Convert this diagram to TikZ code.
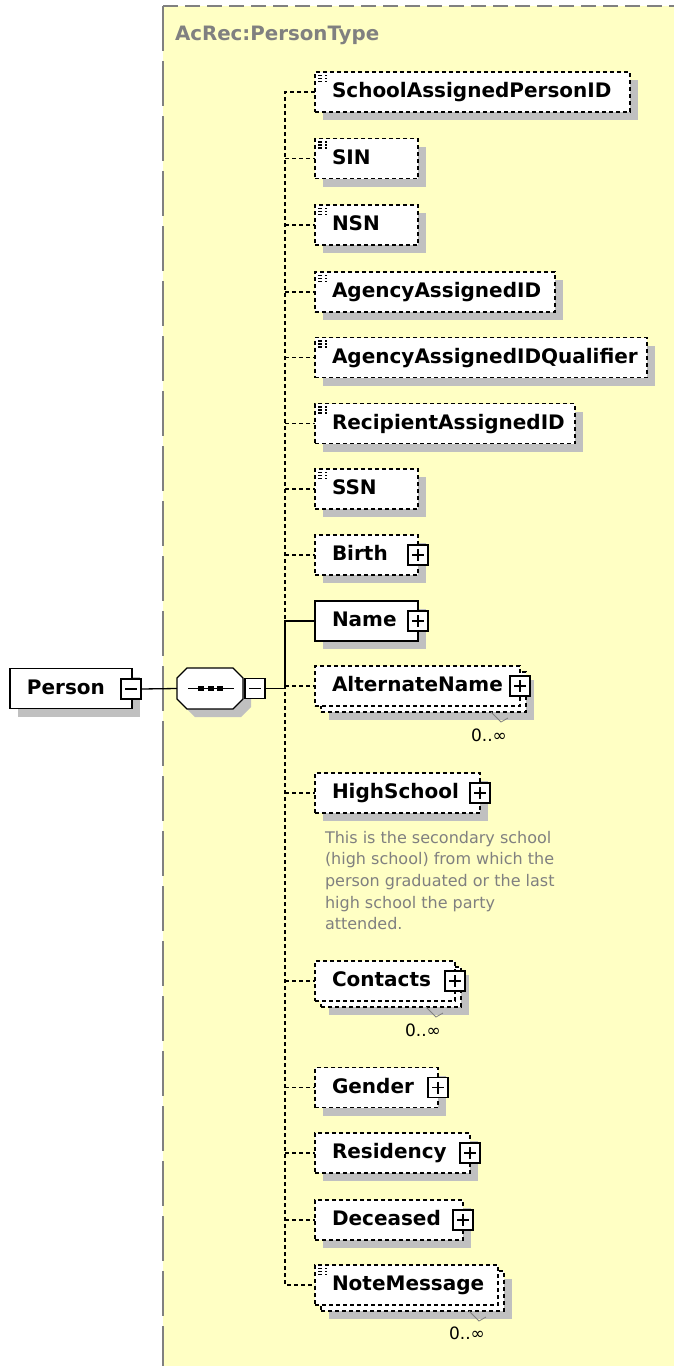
\documentclass[tikz,border=0pt]{standalone}
\usepackage{fontspec}
\setmainfont{DejaVu Sans}
\usetikzlibrary{shadows}
\definecolor{bgy}{HTML}{FFFFC4}
\definecolor{shd}{HTML}{C0C0C0}
\definecolor{txg}{HTML}{808080}
\hyphenpenalty=10000
\exhyphenpenalty=10000
\begin{document}
\begin{tikzpicture}[x=1pt,y=-1pt,
  every node/.style={inner sep=0pt, outer sep=0pt},
  lw/.style={line width=1.3pt},
  shad/.style={general shadow={fill=shd, shadow xshift=8pt, shadow yshift=-8pt}},
  elbox/.style={font=\fontsize{20}{24}\selectfont\bfseries, draw=black, fill=white, lw,
    minimum height=40pt, inner xsep=17pt, text width=#1, align=left, anchor=west,
    text height=15pt, text depth=4pt},
  dsh/.style={dash pattern=on 4pt off 3pt},
  opt/.style={dsh},
  backbox/.style={draw=black, fill=white, lw, dsh, minimum height=40pt, minimum width=#1, anchor=west, shad},
  doc/.style={path picture={
    \foreach \k in {0,1,2}{\draw[line width=1.1pt] ([xshift=3pt,yshift={-3.5pt-3pt*\k}]path picture bounding box.north west) -- ++(9,0);}}},
  pbox/.style={draw=black, fill=white, lw, minimum size=20pt,
    path picture={\draw[lw] ([xshift=4pt]path picture bounding box.west) -- ([xshift=-4pt]path picture bounding box.east);
                  \draw[lw] ([yshift=-4pt]path picture bounding box.north) -- ([yshift=4pt]path picture bounding box.south);}},
  mbox/.style={draw=black, fill=white, lw, minimum size=20pt,
    path picture={\draw[lw] ([xshift=4pt]path picture bounding box.west) -- ([xshift=-4pt]path picture bounding box.east);}},
  conn/.style={lw, dash pattern=on 4pt off 3pt},
  card/.style={font=\fontsize{17}{20}\selectfont, text=black},
  vmark/.style={draw=txg, line width=0.8pt}
]
\useasboundingbox (0,0) rectangle (674,1366);
% background of the complex type
\fill[bgy] (163,6) rectangle (674,1366);
\draw[txg, line width=2pt, dash pattern=on 15pt off 7pt] (163,6) -- (674,6);
\draw[txg, line width=2pt, dash pattern=on 45pt off 10pt] (163,6) -- (163,1366);
\node[font=\fontsize{19.8}{23}\selectfont\bfseries, text=txg, anchor=west] (title) at (175,35) {AcRec:PersonType};

% Person
\node[elbox=88pt, shad] (person) at (10,688.5) {Person};
\node[mbox] (pM) at (131,689) {};

% sequence compositor
\node[minimum width=66pt, minimum height=41pt] (seq) at (210,688.5) {};
\fill[shd] (195,676) -- (241,676) -- (251,686) -- (251,707) -- (241,717) -- (195,717) -- (185,707) -- (185,686) -- cycle;
\draw[lw, fill=white] (187,668) -- (233,668) -- (243,678) -- (243,699) -- (233,709) -- (187,709) -- (177,699) -- (177,678) -- cycle;
\draw[lw] (188,688.5) -- (234,688.5);
\fill (198,686) rectangle (204,691);
\fill (207.5,686) rectangle (213.5,691);
\fill (217,686) rectangle (223,691);
\node[mbox] (seqM) at (255,688.5) {};
\coordinate (t) at (285,688.5);

% elements
\node[elbox=281pt, opt, shad, doc] (sapid) at (315,92) {SchoolAssignedPersonID};
\node[elbox=69pt, opt, shad, doc] (sin) at (315,158.5) {SIN};
\node[elbox=69pt, opt, shad, doc] (nsn) at (315,225) {NSN};
\node[elbox=206pt, opt, shad, doc] (aaid) at (315,292) {AgencyAssignedID};
\node[elbox=298pt, opt, shad, doc] (aaidq) at (315,357.5) {AgencyAssignedIDQualifier};
\node[elbox=226pt, opt, shad, doc] (raid) at (315,423.5) {RecipientAssignedID};
\node[elbox=69pt, opt, shad, doc] (ssn) at (315,489) {SSN};
\node[elbox=69pt, opt, shad] (birth) at (315,555) {Birth};
\node[pbox] (birthP) at (birth.east) {};
\node[elbox=69pt, shad] (name) at (315,621) {Name};
\node[pbox] (nameP) at (name.east) {};

\node[backbox=205pt] (altB) at (321,692) {};
\node[elbox=171pt, opt] (alt) at (315,686) {AlternateName};
\node[pbox] (altP) at (alt.east) {};
\draw[vmark] ([xshift=-35pt]altB.south east) -- ++(10,10) -- ++(7,-4);
\node[card] (altC) at (489,735) {0..∞};

\node[elbox=131pt, opt, shad] (hs) at (315,793) {HighSchool};
\node[pbox] (hsP) at (hs.east) {};
\node[font=\fontsize{16}{21.7}\selectfont, text=txg, align=left, anchor=north west] (hsDoc) at (325,831)
  {This is the secondary school\\(high school) from which the\\person graduated or the last\\high school the party\\attended.};

\node[backbox=140pt] (contB) at (321,987) {};
\node[elbox=106pt, opt] (cont) at (315,981) {Contacts};
\node[pbox] (contP) at (cont.east) {};
\draw[vmark] ([xshift=-35pt]contB.south east) -- ++(10,10) -- ++(7,-4);
\node[card] (contC) at (423,1030) {0..∞};

\node[elbox=89pt, opt, shad] (gender) at (315,1087.5) {Gender};
\node[pbox] (genderP) at (gender.east) {};
\node[elbox=121pt, opt, shad] (res) at (315,1153) {Residency};
\node[pbox] (resP) at (res.east) {};
\node[elbox=114pt, opt, shad] (dec) at (315,1220) {Deceased};
\node[pbox] (decP) at (dec.east) {};

\node[backbox=183pt] (noteB) at (321,1291) {};
\node[elbox=149pt, opt, doc] (note) at (315,1285) {NoteMessage};
\draw[vmark] ([xshift=-35pt]noteB.south east) -- ++(10,10) -- ++(7,-4);
\node[card] (noteC) at (467,1333) {0..∞};

% connectors
\draw[lw] (pM.east) -- (seq.west);
\draw[lw] (seqM.east) -- (t);
\draw[lw] (t) -- (name.west -| t) -- (name.west);
\draw[conn] (sapid.west) -- (sapid.west -| t) -- (note.west -| t) -- (note.west);
\foreach \e in {sin,nsn,aaid,aaidq,raid,ssn,birth,alt,hs,cont,gender,res,dec}{
  \draw[conn] (\e.west -| t) -- (\e.west);
}
\end{tikzpicture}
\end{document}
